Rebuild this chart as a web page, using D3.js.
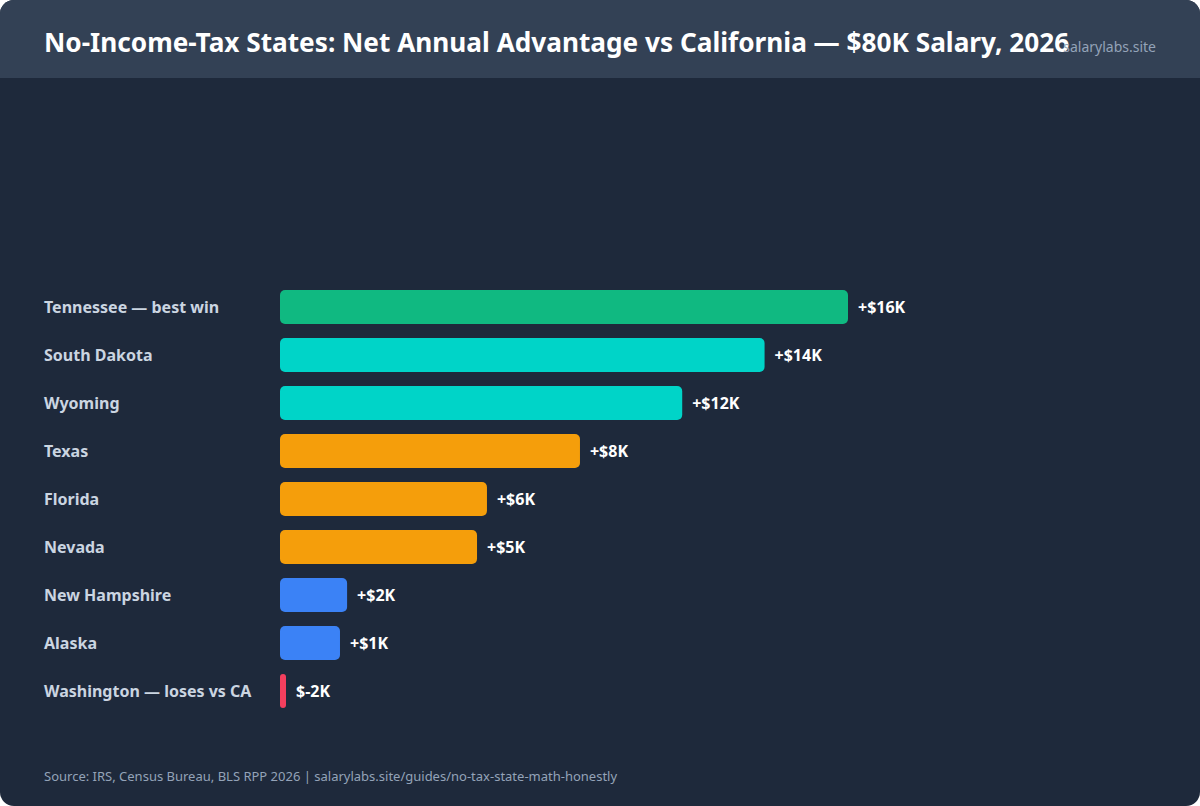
<!DOCTYPE html>
<html><head><meta charset="utf-8">
<script src="https://cdn.jsdelivr.net/npm/d3@7"></script>
<style>body{margin:0;background:#fff}svg{display:block}</style>
</head><body><svg id="c" width="1200" height="806"></svg>
<script>
const categories=["Tennessee — best win","South Dakota","Wyoming","Texas","Florida","Nevada","New Hampshire","Alaska","Washington — loses vs CA"];
const values=[16000,13650,11330,8450,5830,5550,1890,1690,-1800];
const valueLabels=["+$16K","+$14K","+$12K","+$8K","+$6K","+$5K","+$2K","+$1K","$-2K"];
const colors=["#10b981","#00d4c8","#00d4c8","#f59e0b","#f59e0b","#f59e0b","#3b82f6","#3b82f6","#f43f5e"];
const svg=d3.select("#c");
const F="'Noto Sans',sans-serif";
svg.append("rect").attr("width",1200).attr("height",806).attr("rx",14).attr("fill","#1e293b");
const clip=svg.append("defs").append("clipPath").attr("id","cl");
clip.append("rect").attr("width",1200).attr("height",806).attr("rx",14);
svg.append("rect").attr("width",1200).attr("height",78).attr("fill","#334155").attr("clip-path","url(#cl)");
svg.append("text").attr("x",44).attr("y",52).attr("font-family",F).attr("font-weight",700).attr("font-size",26.2).attr("fill","#fff").text("No-Income-Tax States: Net Annual Advantage vs California — $80K Salary, 2026");
svg.append("text").attr("x",1156).attr("y",52).attr("text-anchor","end").attr("font-family",F).attr("font-size",14).attr("fill","#94a3b8").text("salarylabs.site");
const x=d3.scaleLinear().domain([0,16000]).range([280,848]);
const y=d3.scaleBand().domain(categories).range([283,715]).paddingInner(0.29).paddingOuter(0.145);
const g=svg.append("g");
categories.forEach((c,i)=>{
  const v=values[i];
  const w=v>0?x(v)-x(0):6;
  g.append("rect").attr("x",x(0)).attr("y",y(c)).attr("width",w).attr("height",y.bandwidth()).attr("rx",w<10?3:5).attr("fill",colors[i]);
  const cy=y(c)+y.bandwidth()/2;
  g.append("text").attr("x",44).attr("y",cy).attr("dy","0.35em").attr("font-family",F).attr("font-weight",700).attr("font-size",16).attr("fill","#cbd5e1").text(c);
  g.append("text").attr("x",x(0)+w+10).attr("y",cy).attr("dy","0.35em").attr("font-family",F).attr("font-weight",700).attr("font-size",16).attr("fill","#fff").text(valueLabels[i]);
});
svg.append("text").attr("x",44).attr("y",781).attr("font-family",F).attr("font-size",13).attr("fill","#94a3b8").text("Source: IRS, Census Bureau, BLS RPP 2026 | salarylabs.site/guides/no-tax-state-math-honestly");
</script></body></html>
